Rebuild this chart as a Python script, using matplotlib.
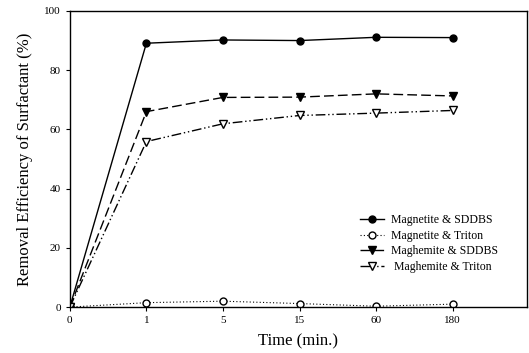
import matplotlib
matplotlib.use("Agg")
import matplotlib.pyplot as plt

time_labels = ["0", "1", "5", "15", "60", "180"]
magnetite_sddbs = [0, 89.1, 90.2, 90.0, 91.1, 91.0]
magnetite_triton = [0, 1.5, 2.0, 1.2, 0.3, 1.0]
maghemite_sddbs = [0, 66.0, 70.8, 70.9, 72.0, 71.3]
maghemite_triton = [0, 55.9, 61.9, 64.7, 65.5, 66.4]

plt.rcParams['font.family'] = ['Liberation Serif', 'DejaVu Serif']

fig = plt.figure(figsize=(5.29, 3.53), dpi=100)
ax = fig.add_axes([0.132, 0.130, 0.864, 0.839])

x = list(range(len(time_labels)))
ax.plot(x, magnetite_sddbs, color='black', linestyle='-', lw=1.0,
        marker='o', markersize=5, markerfacecolor='black', label='Magnetite & SDDBS')
ax.plot(x, magnetite_triton, color='black', linestyle=(0, (1, 2)), lw=0.8,
        marker='o', markersize=5, markerfacecolor='white', markeredgewidth=1.0,
        label='Magnetite & Triton')
ax.plot(x, maghemite_sddbs, color='black', linestyle=(0, (7, 3)), lw=1.0,
        marker='v', markersize=5.5, markerfacecolor='black', label='Maghemite & SDDBS')
ax.plot(x, maghemite_triton, color='black', linestyle=(0, (7, 2, 1, 2, 1, 2)), lw=1.0,
        marker='v', markersize=5.5, markerfacecolor='white', markeredgewidth=1.0,
        label=' Maghemite & Triton')

ax.set_xlim(0, 5.97)
ax.set_ylim(0, 100)
ax.set_xticks(x)
ax.set_xticklabels(time_labels)
ax.set_yticks([0, 20, 40, 60, 80, 100])
ax.tick_params(direction='out', length=3, width=0.8, labelsize=8)
for s in ax.spines.values():
    s.set_linewidth(1.0)

ax.set_xlabel('Time (min.)', fontsize=12, labelpad=6)
ax.set_ylabel('Removal Efficiency of Surfactant (%)', fontsize=12, labelpad=8)

ax.legend(loc='lower right', bbox_to_anchor=(0.96, 0.08), frameon=False, fontsize=8.5,
          handlelength=2.0, handletextpad=0.6, labelspacing=0.3)

fig.savefig('out.png', dpi=100)
